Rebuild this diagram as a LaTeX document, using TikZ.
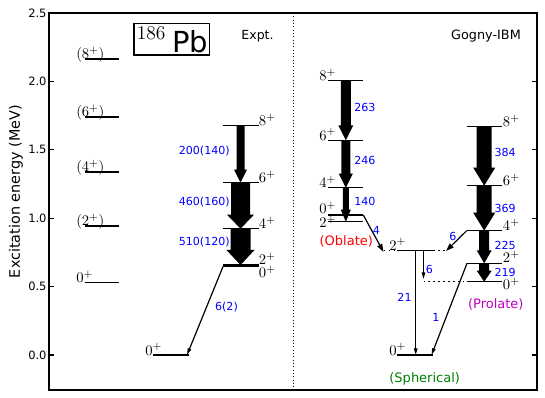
\documentclass[tikz,border=0pt]{standalone}
\usepackage{fontspec}
\newfontfamily\djv{DejaVu Sans}
\usetikzlibrary{arrows.meta}
\definecolor{mblue}{RGB}{0,0,255}
\definecolor{mred}{RGB}{255,0,0}
\definecolor{mgreen}{RGB}{0,128,0}
\definecolor{mmag}{RGB}{191,0,191}
% cx, ytop, ytip, shaft width, head width, head length
\newcommand\bandarrow[6]{%
  \fill ({#1-#4/2},#2) -- ({#1+#4/2},#2) -- ({#1+#4/2},{#3-#6}) -- ({#1+#5/2},{#3-#6})
   -- (#1,#3) -- ({#1-#5/2},{#3-#6}) -- ({#1-#4/2},{#3-#6}) -- cycle;}
\begin{document}
\begin{tikzpicture}[x=0.75pt,y=-0.75pt,
  lev/.style={line width=1.05pt},
  frame/.style={line width=0.8pt},
  jl/.style={inner sep=0pt, font=\fontsize{10.9}{12}\selectfont},
  bl/.style={inner sep=0pt, text=mblue, font=\djv\fontsize{8.3}{10}\selectfont},
  cl/.style={inner sep=0pt, font=\djv\fontsize{9.75}{11}\selectfont},
  thinarr/.style={line width=0.9pt, -{Triangle[length=6pt,width=4pt]}},
  tinyarr/.style={line width=0.9pt, -{Triangle[length=5pt,width=2.6pt]}},
  dots/.style={line width=0.9pt, dash pattern=on 1.1pt off 2.6pt},
]
\useasboundingbox (0,0) rectangle (545,398);
\fill[white] (0,0) rectangle (545,398);

% frame and ticks
\draw[frame] (49,13) rectangle (537,390);
\foreach \v/\t [count=\i] in {0/0.0,0.5/0.5,1/1.0,1.5/1.5,2/2.0,2.5/2.5}{
  \draw[frame] (49,{355-\v*136.8}) -- ++(4.7,0);
  \draw[frame] (537,{355-\v*136.8}) -- ++(-4.7,0);
  \node[anchor=east, inner sep=0pt, font=\djv\fontsize{8.6}{10}\selectfont] (tick\i) at (46.8,{355-\v*136.8}) {\t};
}
\node[rotate=90, inner sep=0pt, font=\djv\fontsize{10.8}{12}\selectfont] (ylab) at (16,191.5) {Excitation energy (MeV)};

% separator
\draw[line width=0.75pt, dash pattern=on 0.8pt off 1.7pt] (293,13) -- (293,390);

% title box
\draw[line width=0.8pt] (134,23.5) rectangle (209.5,55);
\node[anchor=base west, inner sep=0pt, font=\fontsize{14.6}{16}\selectfont] (mass) at (136.5,39.3) {186};
\node[anchor=base west, inner sep=0pt, font=\djv\fontsize{21.75}{24}\selectfont] (elem) at (172,52.7) {Pb};
\node[cl, font=\djv\fontsize{9.4}{11}\selectfont] (expt) at (257.5,36) {Expt.};
\node[cl, font=\djv\fontsize{9.6}{11}\selectfont] (gogny) at (486,36) {Gogny-IBM};

% ---------- Expt: left column
\foreach \y/\lab [count=\i] in {59/(8^+),117/(6^+),172/(4^+),226/(2^+)}{
  \draw[lev] (85,\y) -- (119,\y);
  \node[jl, anchor=base west] (xl\i) at (76,\y) {$\lab$};
}
\draw[lev] (85,282.7) -- (119,282.7);
\node[jl, anchor=base west] (xl5) at (76,282.7) {$0^+$};

% ---------- Expt: band
\foreach \y in {125.7,182.7,228.7,265,266.6}{ \draw[lev] (223,\y) -- (258.5,\y); }
\draw[lev] (153,355) -- (189,355);
\coordinate (ex0b) at (223,266.6);
\coordinate (ex0g) at (187,355);
\node[jl, anchor=base west] (x8) at (258.5,125.7) {$8^+$};
\node[jl, anchor=base west] (x6) at (258.5,182.7) {$6^+$};
\node[jl, anchor=base west] (x4) at (258.5,228.7) {$4^+$};
\node[jl, anchor=base west] (x2) at (258.5,264.3) {$2^+$};
\node[jl, anchor=base west] (x0) at (258.5,277.6) {$0^+$};
\node[jl, anchor=base west] (x0g) at (145,355) {$0^+$};
\bandarrow{240.5}{125.7}{182.7}{8}{13}{13}
\bandarrow{240.5}{182.7}{228.7}{19}{27}{14}
\bandarrow{240.5}{228.7}{265}{20}{28}{15}
\draw[tinyarr] (ex0b) -- (ex0g);
\node[bl, anchor=east] (b1) at (230,151) {200(140)};
\node[bl, anchor=east] (b2) at (230,202.5) {460(160)};
\node[bl, anchor=east] (b3) at (230,242) {510(120)};
\node[bl] (b4) at (226.5,307) {6(2)};

% ---------- Gogny-IBM: oblate
\foreach \y in {80.7,140.3,187.7,215,221.7}{ \draw[lev] (328.3,\y) -- (363.3,\y); }
\node[jl, anchor=base west] (o8) at (319,80.7) {$8^+$};
\node[jl, anchor=base west] (o6) at (319,140.3) {$6^+$};
\node[jl, anchor=base west] (o4) at (319,187.7) {$4^+$};
\node[jl, anchor=base west] (o0) at (319,213.8) {$0^+$};
\node[jl, anchor=base west] (o2) at (319,227.8) {$2^+$};
\bandarrow{345.8}{80.7}{140.3}{10}{15}{15}
\bandarrow{345.8}{140.3}{187.7}{9}{14}{14}
\bandarrow{345.8}{187.7}{221.7}{6}{10}{12}
\node[bl, anchor=west] (g1) at (354,107) {263};
\node[bl, anchor=west] (g2) at (354,160) {246};
\node[bl, anchor=west] (g3) at (354,201.5) {140};
\coordinate (ob0) at (363.3,215);
\node[cl, text=mred] (obl) at (346.3,241.5) {(Oblate)};

% ---------- spherical
\draw[dots] (384,250.3) -- (448,250.3);
\draw[lev] (397,250.3) -- (433,250.3);
\draw[lev] (397,355) -- (432.7,355);
\node[jl, anchor=base west] (s2) at (389,250.3) {$2^+$};
\node[jl, anchor=base west] (s0) at (389,355) {$0^+$};
\coordinate (sp2in) at (383.5,252);
\coordinate (sp2pin) at (446,251);
\coordinate (sp0in) at (431.5,355);
\coordinate (sa1) at (415.7,250.3);
\coordinate (sa2) at (415.7,355);
\coordinate (sb1) at (423.5,250.3);
\coordinate (sb2) at (423.5,279);
\draw[tinyarr] (sa1) -- (sa2);
\draw[tinyarr] (sb1) -- (sb2);
\draw[dots] (423.5,281.7) -- (466.7,281.7);
\node[bl] (g21) at (404.5,297) {21};
\node[bl] (g6a) at (429.5,269.5) {6};
\node[cl, text=mgreen] (sph) at (424.7,379) {(Spherical)};

% ---------- prolate
\foreach \y in {126.7,185.7,230.7,263.3,281.7}{ \draw[lev] (466.7,\y) -- (502,\y); }
\node[jl, anchor=base west] (p8) at (502.7,126.7) {$8^+$};
\node[jl, anchor=base west] (p6) at (502.7,185.7) {$6^+$};
\node[jl, anchor=base west] (p4) at (502.7,230.7) {$4^+$};
\node[jl, anchor=base west] (p2) at (502.7,263) {$2^+$};
\node[jl, anchor=base west] (p0) at (502.7,289.6) {$0^+$};
\bandarrow{484.2}{126.7}{185.7}{15}{22}{18}
\bandarrow{484.2}{185.7}{230.7}{15}{22}{18}
\bandarrow{484.2}{230.7}{263.3}{10}{15}{13}
\bandarrow{484.2}{263.3}{281.7}{10}{15}{11}
\node[bl, anchor=west] (q1) at (494.3,152.5) {384};
\node[bl, anchor=west] (q2) at (494.3,208) {369};
\node[bl, anchor=west] (q3) at (494.3,245) {225};
\node[bl, anchor=west] (q4) at (494.3,272) {219};
\coordinate (pr4) at (466.7,230.7);
\coordinate (pr2) at (467,263.3);
\node[cl, text=mmag] (pro) at (495.8,304) {(Prolate)};

% inter-band transitions
\draw[thinarr] (ob0) -- (sp2in);
\draw[thinarr] (pr4) -- (sp2pin);
\draw[tinyarr] (pr2) -- (sp0in);
\node[bl] (g4) at (376.5,230.5) {4};
\node[bl] (g6b) at (453,236.5) {6};
\node[bl] (g1b) at (436,317) {1};
\end{tikzpicture}
\end{document}
